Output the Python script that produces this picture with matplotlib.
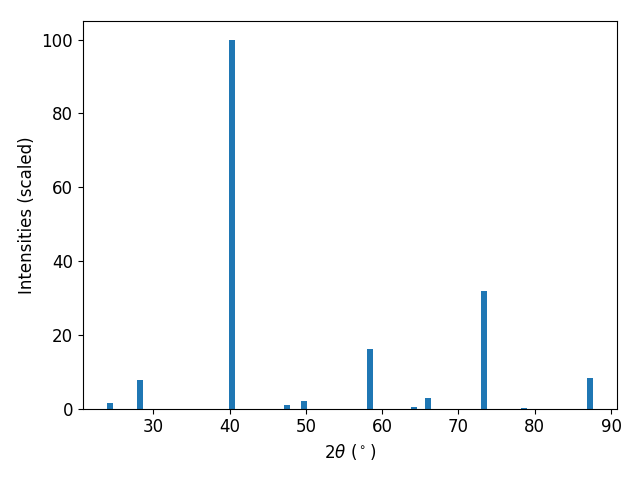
import matplotlib
matplotlib.use("Agg")
import matplotlib.pyplot as plt

two_theta = [24.35, 28.26, 40.26, 47.5, 49.8, 58.4, 64.15, 66.0, 73.3, 78.55, 87.25]
intensities = [1.6, 7.9, 100.0, 0.9, 2.2, 16.3, 0.6, 3.0, 32.0, 0.3, 8.4]

plt.rcParams['font.size'] = 12

fig, ax = plt.subplots(figsize=(6.4, 4.8), dpi=100)
ax.bar(two_theta, intensities, width=0.8)
ax.set_xlabel(r'$2\theta$ ($^\circ$)')
ax.set_ylabel('Intensities (scaled)')
fig.tight_layout()
fig.subplots_adjust(top=0.956)
fig.savefig('out.png')
